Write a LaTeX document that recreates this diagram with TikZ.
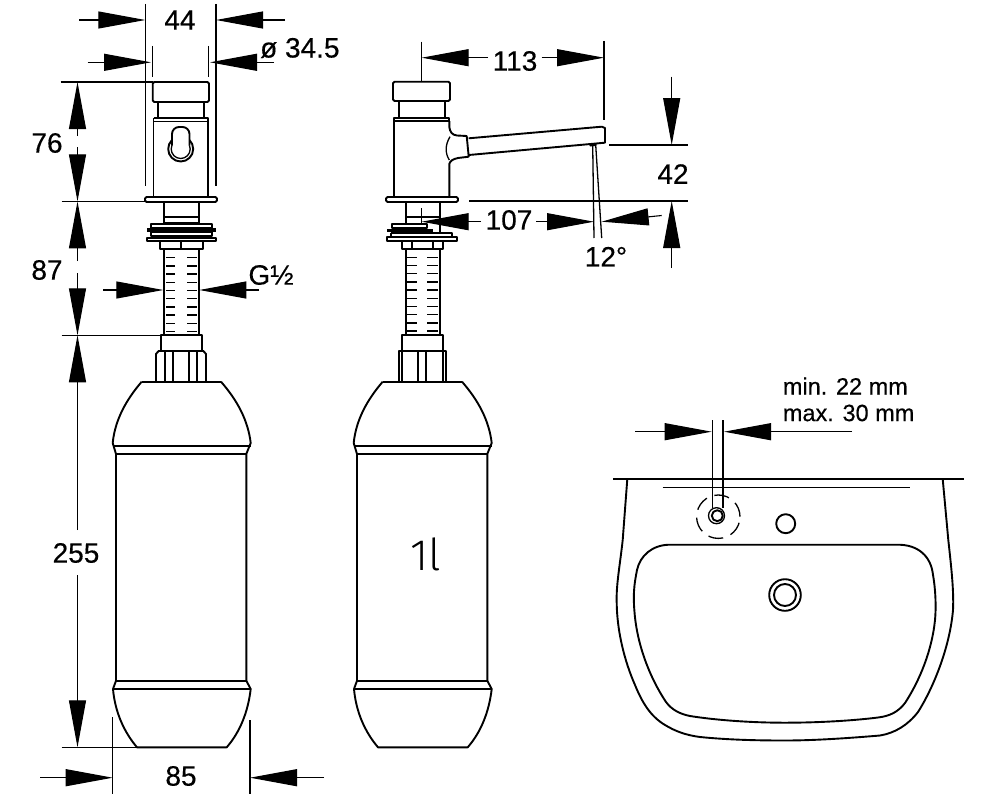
\documentclass[tikz,border=0pt]{standalone}
\usepackage{fontspec}
\setmainfont[FakeBold=0.4]{Liberation Sans}
\newfontfamily\volfont{Fira Sans Light}
\usetikzlibrary{arrows.meta}
\tikzset{
  outline/.style={line width=1.9pt,line join=round},
  fineline/.style={line width=1.3pt},
  dimline/.style={line width=1.1pt},
  dimtext/.style={inner sep=0pt,font=\fontsize{28}{28}\selectfont},
  smalltext/.style={inner sep=0pt,anchor=west,font=\fontsize{23.5}{23.5}\selectfont}
}
\newcommand{\bottlebody}{%
\draw[outline] (141.7,381.7)--(221,381.7);
\draw[outline] (141.7,381.7) .. controls (126,400) and (115,420) .. (112.7,443)--(116,454)--(116,680.7)--(113,689) .. controls (115,712) and (124,732) .. (137,747.3)--(226.7,747.3) .. controls (240,732) and (248,712) .. (250.7,689)--(246.3,680.7)--(246.3,454)--(250.7,443) .. controls (248,420) and (237,400) .. (221,381.7);
\draw[outline] (112.7,445.7)--(250.7,445.7);
\draw[outline] (116,454)--(246.3,454);
\draw[outline] (116,680.7)--(246.3,680.7);
\draw[outline] (113,689)--(250.7,689);
}
\begin{document}
\begin{tikzpicture}[x=1pt,y=-1pt,>={Triangle[length=47pt,width=17pt]}]
\useasboundingbox (0,0) rectangle (1000,800);
% front view, head
\draw[outline,rounded corners=1.5pt] (152.7,102)--(152.7,82)--(209,82)--(209,102)--cycle;
\draw[outline] (158,102)--(158,118) (204,102)--(204,118);
\draw[outline] (153.5,118)--(208,118)--(208,197) (153.5,118)--(153.5,197) (153.5,121.5)--(208,121.5);
\draw[outline,rounded corners=1.5pt] (145,197)--(217,197)--(217,202)--(145,202)--cycle;
\draw[outline] (180.7,149) circle (12.5pt);
\draw[fineline] (180.7,149) circle (9.5pt);
\draw[outline,fill=white,rounded corners=7pt] (172,145)--(172,127)--(189.5,127)--(189.5,145);
% front view, stem
\draw[outline] (164,202)--(164,224) (198.7,202)--(198.7,224) (164,217)--(198.7,217) (164,223)--(198.7,223);
\draw[outline] (151,224) rectangle (212,228);
\fill (147,228) rectangle (216,232);
\draw[outline] (151,232) rectangle (212,236);
\draw[outline] (147,237.7) rectangle (216,241);
\draw[outline] (160,241)--(160,249)--(202.7,249)--(202.7,241) (181,241)--(181,249);
\draw[outline] (164,249)--(164,335) (198.7,249)--(198.7,335);
\foreach \t in {0,...,9} {
  \draw[fineline] (166,{257.7+8.2*\t})--(175,{257.7+8.2*\t});
  \draw[fineline] (187,{257.7+8.2*\t})--(197,{257.7+8.2*\t});
}
\draw[outline] (160.7,335) rectangle (201.7,351);
\draw[outline] (156,382)--(156,354)--(158.6,351)--(203.4,351)--(206,354)--(206,382);
\draw[outline] (165,351)--(165,382) (172.7,351)--(172.7,382) (189,351)--(189,382) (197,351)--(197,382);
\bottlebody
% side view, head
\draw[outline,rounded corners=1.5pt] (393,101)--(393,81.7)--(450,81.7)--(450,101)--cycle;
\draw[outline] (399,101)--(399,118) (445,101)--(445,118);
\draw[outline] (394,197)--(394,118)--(449.3,118)--(449.3,121) (394,121)--(449.3,121);
\draw[outline,rounded corners=1.5pt] (386,197)--(458,197)--(458,202)--(386,202)--cycle;
\draw[outline] (449.3,121)--(449.3,127) .. controls (450,132) and (452,135) .. (457,135.5)--(466.7,136)--(468.7,156.7)--(458,158) .. controls (453,159) and (450,161) .. (449.3,164)--(449.3,197);
\draw[fineline] (450,136.7) .. controls (445,145) and (445,153) .. (449.3,160);
\draw[outline] (468.7,138.3)--(601.7,126.7)--(605,128)--(605,142.7)--(468.7,155);
\fill (589,144.5)--(597,143.4)--(596,146)--(590,146.5)--cycle;
\draw[fineline] (592.7,145)--(594,238) (595.7,145)--(601.7,238);
% side view, stem
\draw[outline] (405.7,202)--(405.7,224) (440,202)--(440,234) (405.7,216.7)--(440,216.7);
\draw[outline] (392,224) rectangle (427,228);
\fill (387,229) rectangle (432.7,232);
\draw[outline] (390.7,233)--(451.7,233)--(451.7,236.7) (390.7,233)--(390.7,236.7);
\draw[outline] (387,236.7) rectangle (456.7,240.7);
\draw[outline] (401.7,240.7)--(401.7,249)--(443,249)--(443,240.7) (411.7,240.7)--(411.7,249) (432.7,240.7)--(432.7,249);
\draw[outline] (405.7,249)--(405.7,335) (440,249)--(440,335);
\foreach \t in {0,...,9} {
  \draw[fineline] (407,{257.3+8.2*\t})--(416.7,{257.3+8.2*\t});
  \draw[fineline] (427,{257.3+8.2*\t})--(438,{257.3+8.2*\t});
}
\draw[outline] (402,335) rectangle (442.7,351);
\draw[outline] (398.7,382)--(398.7,351)--(446,351)--(446,382);
\draw[outline] (402.3,351)--(402.3,382) (417.7,351)--(417.7,382) (426,351)--(426,382) (442.7,351)--(442.7,382);
\begin{scope}[xshift=241pt]
\bottlebody
\end{scope}
\node[inner sep=0pt,font=\volfont\fontsize{44}{44}\selectfont] (volume) at (426,554) {1l};
% basin
\draw[outline] (613,479)--(964,479);
\draw[fineline] (662.7,487.3)--(910,487.3);
\draw[outline] (627.3,479)--(622.7,540) .. controls (620,565) and (616,585) .. (616.7,603) .. controls (617,630) and (624,660) .. (635,685) .. controls (642,702) and (650,716) .. (665,725) .. controls (675,731) and (685,735) .. (700,737) .. controls (730,740) and (760,740.5) .. (785,740.5) .. controls (815,740.5) and (850,738) .. (880,735.5) .. controls (895,733) and (908,725) .. (918,712) .. controls (935,685) and (950,645) .. (953,610) .. controls (954,590) and (951,565) .. (948.3,540)--(942.7,479);
\draw[outline] (670,544.7)--(898,544.7) .. controls (918,544.7) and (931,556) .. (933,575) .. controls (936,592) and (936,610) .. (935,620) .. controls (932,650) and (920,680) .. (905,703) .. controls (898,712) and (890,716) .. (878,717.5) .. controls (850,721) and (815,722.7) .. (785,722.7) .. controls (750,722.7) and (715,720) .. (690,716) .. controls (680,714) and (672,710) .. (666,702) .. controls (650,678) and (637,645) .. (634.5,612) .. controls (633,595) and (634,585) .. (637,570) .. controls (640,556) and (652,544.7) .. (670,544.7)--cycle;
\draw[outline] (785,595) circle (15.8pt);
\draw[outline] (785,595) circle (11pt);
\draw[outline] (785.7,523.7) circle (9.5pt);
\draw[fineline] (712.3,420)--(712.3,508) (723,420)--(723,508);
\draw[outline] (717.3,515.7) circle (5.5pt);
\draw[fineline] (716.5,515.7) circle (8pt);
\draw[fineline,dash pattern=on 15pt off 8pt] (718.3,516.7) circle (21.7pt);
% dimensions
\draw[dimline] (145.3,4)--(145.3,186) (216,4)--(216,186);
\draw[dimline,->] (79,20)--(145.3,20);
\draw[dimline,->] (285,20)--(216,20);
\node[dimtext] (w44) at (180,20) {44};
\draw[dimline] (152.7,46)--(152.7,77) (208.7,46)--(208.7,77);
\draw[dimline,->] (87.7,62.3)--(151,62.3);
\draw[dimline,->] (274,62.3)--(210,62.3);
\node[dimtext,anchor=west] (d345) at (260,48) {ø 34.5};
\draw[dimline] (60.7,82)--(153,82) (61.7,201.4)--(145,201.4) (61.7,335.3)--(160,335.3) (61.7,747.3)--(137,747.3);
\draw[dimline,->] (77.5,136)--(77.5,82);
\draw[dimline,->] (77.5,147)--(77.5,201.4);
\node[dimtext] (h76) at (47,143) {76};
\draw[dimline,->] (77.5,261)--(77.5,201.4);
\draw[dimline,->] (77.5,273)--(77.5,335.3);
\node[dimtext] (h87) at (47,270) {87};
\draw[dimline,->] (77.5,530)--(77.5,335.3);
\draw[dimline,->] (77.5,575)--(77.5,747.3);
\node[dimtext] (h255) at (76,553) {255};
\draw[dimline,->] (103,290)--(163.3,290);
\draw[dimline,->] (259,290)--(199.3,290);
\node[dimtext,anchor=west] (g12) at (248.3,275) {G½};
\draw[dimline] (112.7,717)--(112.7,794) (250,720)--(250,794);
\draw[dimline,->] (40,777.7)--(112.7,777.7);
\draw[dimline,->] (324,777.7)--(250,777.7);
\node[dimtext] (w85) at (181,776) {85};
\draw[dimline] (421.7,41.7)--(421.7,81) (604,41)--(604,120);
\draw[dimline,->] (488,57.7)--(421.7,57.7);
\draw[dimline,->] (541.7,57.7)--(604,57.7);
\node[dimtext] (l113) at (515,61) {113};
\draw[dimline] (421.7,208)--(421.7,223) (469,201)--(688,201) (609,145)--(688,145);
\draw[dimline,->] (481,221.7)--(421.7,221.7);
\draw[dimline,->] (536,221.7)--(594,221.7);
\draw[dimline,->] (661.7,215.5)--(601.7,221.7);
\node[dimtext] (l107) at (509,220) {107};
\node[dimtext] (a12) at (606,256.7) {12°};
\draw[dimline,->] (671.7,76.7)--(671.7,145);
\draw[dimline,->] (671.7,268)--(671.7,201);
\node[dimtext] (h42) at (673,174) {42};
\draw[dimline,->] (635,431.7)--(711.7,431.7);
\draw[dimline,->] (852,431.7)--(724,431.7);
\node[smalltext] (minw) at (782.7,386) {min. 22 mm};
\node[smalltext] (maxw) at (782.7,413) {max. 30 mm};
\end{tikzpicture}
\end{document}
